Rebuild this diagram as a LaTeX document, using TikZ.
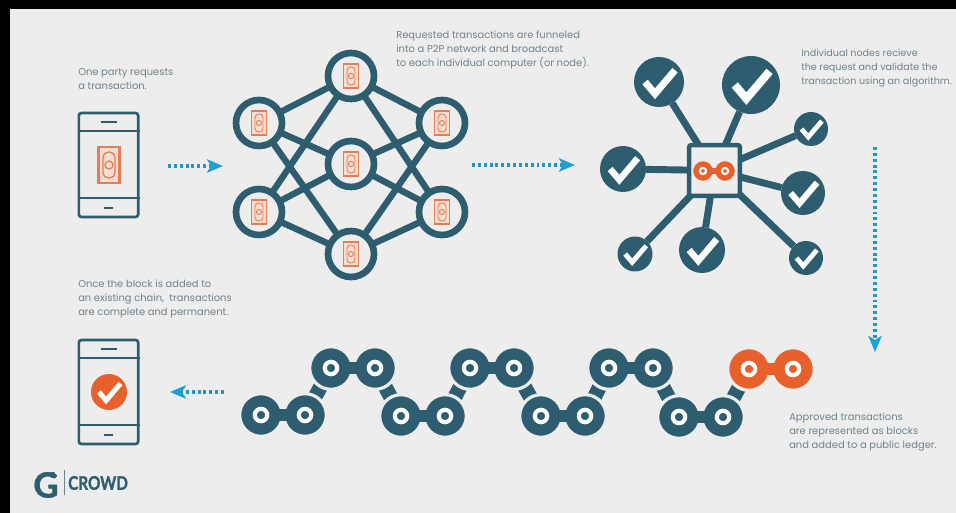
\documentclass[tikz,border=0pt]{standalone}
\usepackage{fontspec}
\setmainfont{Poppins}
\newfontfamily\logofont[BoldFeatures={FakeBold=1.5}]{Lato}
\usepackage{tikz}
\usetikzlibrary{arrows.meta}
\definecolor{darkteal}{RGB}{46,93,112}
\definecolor{myorange}{RGB}{232,97,44}
\definecolor{billorange}{RGB}{228,125,88}
\definecolor{palebill}{RGB}{245,222,208}
\definecolor{flowblue}{RGB}{27,160,215}
\definecolor{dotblue}{RGB}{35,150,185}
\definecolor{paper}{RGB}{237,237,237}
\definecolor{captiongrey}{RGB}{112,130,140}
\tikzset{
    x=0.75pt, y=-0.75pt,
    caption/.style={anchor=west, align=left, text=captiongrey, inner sep=0pt, font=\fontsize{7.45}{10.5}\selectfont},
    flow/.style={line width=2.3pt, dotblue, dash pattern=on 2.2pt off 2.2pt,
        -{Stealth[length=12pt, width=10pt, inset=3pt, flowblue]}},
    phonebody/.style={draw=darkteal, rectangle, rounded corners=2pt, line width=2pt,
        minimum width=44.5pt, minimum height=78pt, inner sep=0pt},
    phoneline/.style={draw=darkteal, line width=2pt},
    speaker/.style={draw=darkteal, line width=2.2pt},
    netnode/.style={draw=darkteal, fill=paper, circle, line width=5pt, minimum size=34.5pt,
        inner sep=0pt, outer sep=0pt},
    netedge/.style={draw=darkteal, line width=4.8pt},
    hubbox/.style={draw=darkteal, fill=paper, rectangle, rounded corners=1.5pt, line width=3.4pt,
        minimum size=38pt, inner sep=0pt, outer sep=0pt},
    spoke/.style={draw=darkteal, line width=5.2pt},
    check/.style={circle, fill=darkteal, minimum size=#1*1.5pt, inner sep=0pt, outer sep=0pt,
        checkmark=#1},
    checkmark/.style={
        path picture={
            \draw[white!92!paper, line width=#1*0.21pt]
                (path picture bounding box.center) ++(-.56*#1,0) -- ++(.4*#1,.47*#1) -- ++(.8*#1,-.94*#1);
        }
    },
    chainend/.style 2 args={circle, fill=#2, draw=paper, line width=#1*0.12pt,
        minimum size=#1*1.6pt, inner sep=0pt, outer sep=0pt,
        path picture={
            \draw[white, line width=#1*0.155pt] (path picture bounding box.center) circle (.31*#1);
        }
    },
    chainbar/.style={line width=9.6pt, shorten <=-7pt, shorten >=-7pt},
    hubbar/.style={line width=4.8pt, myorange, shorten <=-3.2pt, shorten >=-3.2pt},
    chainlink/.style={line width=11pt, darkteal},
    bill/.pic={
        \draw[billorange, fill=palebill, line width=1.6pt] (-10.5,-18) rectangle (10.5,18);
        \draw[billorange, line width=1pt, rounded corners=4pt] (-6,-13) rectangle (6,13);
        \draw[billorange, line width=1pt] (0,0) circle (4);
    },
    smallbill/.pic={
        \draw[billorange, fill=palebill, line width=1.2pt] (-7.5,-12) rectangle (7.5,12);
        \draw[billorange, line width=.7pt, rounded corners=2.8pt] (-4,-9) rectangle (4,9);
        \draw[billorange, line width=.7pt] (0,0) circle (2.6);
    }
}
\begin{document}
\begin{tikzpicture}
    \useasboundingbox (0,0) rectangle (956,513);
    \fill[black] (0,0) rectangle (956,513);
    \fill[paper] (10,9) rectangle (956,513);

    % captions
    \node[caption] (cap1) at (78,79) {One party requests\\a transaction.};
    \node[caption] (cap2) at (396,50) {Requested transactions are funneled\\into a P2P network and broadcast\\to each individual computer (or node).};
    \node[caption, font=\fontsize{7.2}{10.5}\selectfont] (cap3) at (801,68) {Individual nodes recieve\\the request and validate the\\transaction using an algorithm.};
    \node[caption] (cap4) at (78,299) {Once the block is added to\\an existing chain,\ \ transactions\\are complete and permanent.};
    \node[caption] (cap5) at (789,432) {Approved transactions\\are represented as blocks\\and added to a public ledger.};

    % phones
    \foreach \name/\ypos in {phone1/165, phone2/392} {
        \node[phonebody] (\name) at (108.5,\ypos) {};
        \draw[phoneline] (\name.west |- 0,\ypos-34) -- (\name.east |- 0,\ypos-34);
        \draw[phoneline] (\name.west |- 0,\ypos+33) -- (\name.east |- 0,\ypos+33);
        \draw[speaker] (101,\ypos-43) -- (117,\ypos-43);
        \draw[speaker] (104,\ypos+43) -- (113,\ypos+43);
    }
    \path (109,165) pic {bill};
    \node[check=18, fill=myorange] (done) at (109,392) {};

    % network
    \node[netnode] (top) at (351,76) {};
    \node[netnode] (lefta) at (259,123) {};
    \node[netnode] (righta) at (442,123) {};
    \node[netnode] (mid) at (351,164) {};
    \node[netnode] (leftb) at (259,212) {};
    \node[netnode] (rightb) at (442,212) {};
    \node[netnode] (bottom) at (351,254) {};
    \foreach \from/\to in {top/lefta, top/righta, top/leftb, top/rightb,
        mid/lefta, mid/righta, mid/leftb, mid/rightb,
        bottom/lefta, bottom/righta, bottom/leftb, bottom/rightb} {
        \draw[netedge] (\from) -- (\to);
    }
    \foreach \name in {top, lefta, righta, mid, leftb, rightb, bottom} {
        \path (\name) pic {smallbill};
    }

    % validators
    \node[hubbox] (hub) at (714.5,170.5) {};
    \foreach \name/\xpos/\ypos/\rad in {va/659/82/25, vb/751/85/29, vc/811/129/17, vd/803/193/22,
        ve/806/258/17, vf/702/250/23, vg/635/254/17.5, vh/623/169/23} {
        \node[check=\rad] (\name) at (\xpos,\ypos) {};
        \draw[spoke] (\name) -- (hub);
    }
    \node[chainend={10}{myorange}] (huba) at (703,171) {};
    \node[chainend={10}{myorange}] (hubb) at (725,171) {};
    \draw[hubbar] (huba.east) -- (hubb.west);

    % chain
    \foreach \name/\xpos/\ypos in {
        ca/261/415, cb/331/368, cc/401/416, cd/470/368, ce/541/416, cf/609/368, cg/679/417, ch/749/369} {
        \coordinate (\name l) at (\xpos,\ypos);
        \coordinate (\name r) at (\xpos+44,\ypos);
    }
    \foreach \from/\to in {ca/cb, cb/cc, cc/cd, cd/ce, ce/cf, cf/cg, cg/ch} {
        \draw[chainlink] (\from r) -- (\to l);
    }
    \foreach \name/\col in {ca/darkteal, cb/darkteal, cc/darkteal, cd/darkteal, ce/darkteal, cf/darkteal, cg/darkteal, ch/myorange} {
        \node[chainend={20}{\col}] (\name a) at (\name l) {};
        \node[chainend={20}{\col}] (\name b) at (\name r) {};
        \draw[chainbar, \col] (\name a.east) -- (\name b.west);
    }

    % arrows
    \coordinate (arrow1a) at (168,166);
    \coordinate (arrow1b) at (223,166);
    \coordinate (arrow2a) at (472,165);
    \coordinate (arrow2b) at (575,165);
    \coordinate (arrow3a) at (875,147);
    \coordinate (arrow3b) at (875,352);
    \coordinate (arrow4a) at (224,392);
    \coordinate (arrow4b) at (170,392);
    \draw[flow] (arrow1a) -- (arrow1b);
    \draw[flow] (arrow2a) -- (arrow2b);
    \draw[flow] (arrow3a) -- (arrow3b);
    \draw[flow] (arrow4a) -- (arrow4b);

    % logo
    \node[text=darkteal, font=\logofont\bfseries\fontsize{26}{26}\selectfont, inner sep=0pt] (logog) at (46,485) {G};
    \node[text=darkteal, font=\logofont\bfseries\fontsize{6}{6}\selectfont, inner sep=0pt] (logotwo) at (53,475) {2};
    \node[text=darkteal, font=\logofont\bfseries\fontsize{14}{14}\selectfont, inner sep=0pt, anchor=west, xscale=.82] (logotext) at (68,483) {CROWD};
    \draw[captiongrey, line width=.6pt] (64,470) -- (64,495);
\end{tikzpicture}
\end{document}
